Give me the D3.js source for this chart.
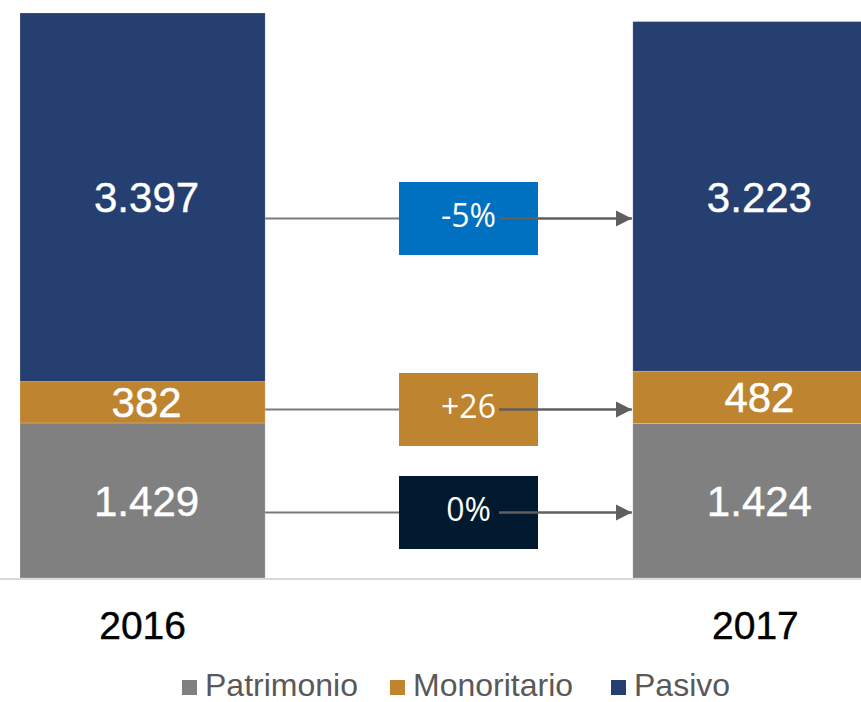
<!DOCTYPE html>
<html>
<head>
<meta charset="utf-8">
<script src="https://cdn.jsdelivr.net/npm/d3@7"></script>
<style>
  html, body { margin: 0; padding: 0; background: #fff; }
  svg { display: block; }
</style>
</head>
<body>
<svg id="chart" width="861" height="702"></svg>
<script>
// ---- Data ----
const years = ["2016", "2017"];
const seriesNames = ["Patrimonio", "Monoritario", "Pasivo"];
const patrimonio = [1429, 1424];
const monoritario = [382, 482];
const pasivo = [3397, 3223];
const valueLabels = {
  Patrimonio: ["1.429", "1.424"],
  Monoritario: ["382", "482"],
  Pasivo: ["3.397", "3.223"]
};
const changeLabels = ["0%", "+26", "-5%"]; // Patrimonio, Monoritario, Pasivo
const seriesColors = ["#808080", "#BF842F", "#243F70"];
const changeColors = ["#021A30", "#BF842F", "#0070C0"];

// ---- Layout ----
const W = 861, H = 702;
const baseY = 578, topY = 13;
const svg = d3.select("#chart");

const table = years.map((y, i) => ({
  year: y,
  Patrimonio: patrimonio[i],
  Monoritario: monoritario[i],
  Pasivo: pasivo[i]
}));
const stacked = d3.stack().keys(seriesNames)(table);
const totals = table.map(d => d.Patrimonio + d.Monoritario + d.Pasivo);

const x = d3.scaleBand().domain(years).range([20, 878]).paddingInner(0.6).paddingOuter(0);
const y = d3.scaleLinear().domain([0, d3.max(totals)]).range([baseY, topY]);
const color = d3.scaleOrdinal().domain(seriesNames).range(seriesColors);

// baseline
svg.append("line")
  .attr("x1", 0).attr("x2", W)
  .attr("y1", baseY + 1).attr("y2", baseY + 1)
  .attr("stroke", "#d9d9d9").attr("stroke-width", 2);

// bars
const layers = svg.append("g").selectAll("g").data(stacked).join("g")
  .attr("fill", d => color(d.key));
layers.selectAll("rect").data(d => d.map(v => ({ key: d.key, v }))).join("rect")
  .attr("x", d => x(d.v.data.year))
  .attr("width", x.bandwidth())
  .attr("y", d => y(d.v[1]))
  .attr("height", d => y(d.v[0]) - y(d.v[1]))
  .attr("stroke", "rgba(255,255,255,0.25)")
  .attr("stroke-width", 0.8);

// value labels
stacked.forEach(layer => {
  layer.forEach((v, i) => {
    svg.append("text")
      .attr("x", x(v.data.year) + x.bandwidth() / 2 + 4)
      .attr("y", (y(v[0]) + y(v[1])) / 2)
      .attr("dy", "0.36em")
      .attr("text-anchor", "middle")
      .attr("fill", "#ffffff")
      .attr("stroke", "#ffffff")
      .attr("stroke-width", 0.4)
      .attr("font-family", "'Liberation Sans', Arial, sans-serif")
      .attr("font-size", 42)
      .text(valueLabels[layer.key][i]);
  });
});

// x axis labels
const xAxis = d3.axisBottom(x).tickSize(0).tickPadding(0);
const axisG = svg.append("g").attr("transform", `translate(0, 639)`).call(xAxis);
axisG.select(".domain").remove();
axisG.selectAll("text")
  .attr("font-family", "'Liberation Sans', Arial, sans-serif")
  .attr("font-size", 39)
  .attr("fill", "#000")
  .attr("stroke", "#000")
  .attr("stroke-width", 0.4)
  .attr("dy", "0");

// change annotations
const boxX = 399, boxW = 139, boxH = 73;
const boxCY = [512.5, 409.5, 218.5]; // Patrimonio, Monoritario, Pasivo
const barRight = x("2016") + x.bandwidth();
const arrowTip = x("2017") - 1;
const defs = svg.append("defs");
defs.append("marker")
  .attr("id", "arrow").attr("viewBox", "0 0 10 10")
  .attr("refX", 10).attr("refY", 5)
  .attr("markerWidth", 6.5).attr("markerHeight", 6.5)
  .attr("markerUnits", "strokeWidth")
  .attr("orient", "auto")
  .append("path").attr("d", "M0,0 L10,5 L0,10 Z").attr("fill", "#5f5f5f");

seriesNames.forEach((s, i) => {
  const cy = boxCY[i];
  svg.append("line")
    .attr("x1", barRight).attr("x2", boxX)
    .attr("y1", cy).attr("y2", cy)
    .attr("stroke", "#7a7a7a").attr("stroke-width", 2);
  svg.append("rect")
    .attr("x", boxX).attr("y", cy - boxH / 2)
    .attr("width", boxW).attr("height", boxH)
    .attr("fill", changeColors[i]);
  svg.append("text")
    .attr("x", boxX + boxW / 2).attr("y", cy)
    .attr("dy", "0.27em")
    .attr("text-anchor", "middle")
    .attr("fill", "#fff")
    .attr("font-family", "'Open Sans', sans-serif")
    .attr("font-size", 32)
    .text(changeLabels[i]);
  svg.append("line")
    .attr("x1", 499).attr("x2", arrowTip)
    .attr("y1", cy).attr("y2", cy)
    .attr("stroke", "#5f5f5f").attr("stroke-width", 2.5)
    .attr("marker-end", "url(#arrow)");
});

// legend
const legendItems = [
  { name: "Patrimonio", sx: 182 },
  { name: "Monoritario", sx: 390 },
  { name: "Pasivo", sx: 611 }
];
const lg = svg.append("g");
legendItems.forEach(it => {
  lg.append("rect")
    .attr("x", it.sx).attr("y", 680)
    .attr("width", 15).attr("height", 15)
    .attr("fill", color(it.name));
  lg.append("text")
    .attr("x", it.sx + 23).attr("y", 696)
    .attr("fill", "#595959")
    .attr("font-family", "'Liberation Sans', Arial, sans-serif")
    .attr("font-size", 32)
    .text(it.name);
});
</script>
</body>
</html>
